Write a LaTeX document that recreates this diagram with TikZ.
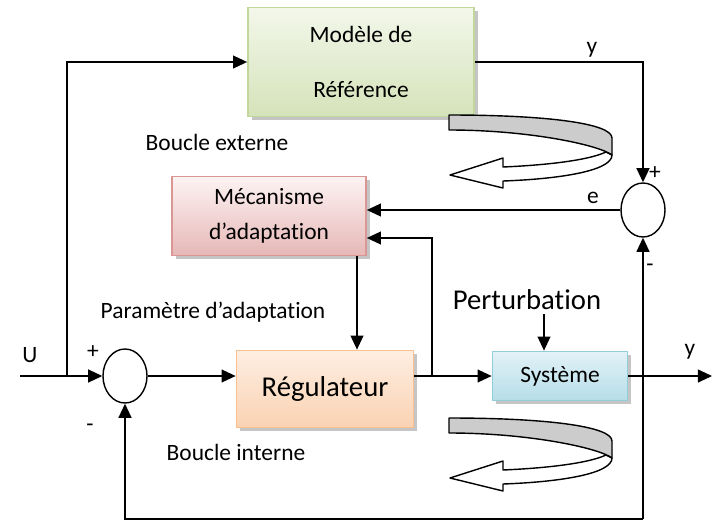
\documentclass[tikz,border=0pt]{standalone}
\usepackage{fontspec}
\setmainfont{Carlito}[Ligatures=NoCommon]
\usetikzlibrary{positioning,arrows.meta,shadows,shapes.geometric}
\definecolor{vertH}{HTML}{F3F7EA}
\definecolor{vertB}{HTML}{D5E3BA}
\definecolor{vertT}{HTML}{C3D69B}
\definecolor{roseH}{HTML}{FDF3F3}
\definecolor{roseB}{HTML}{E6B8B7}
\definecolor{roseT}{HTML}{D99694}
\definecolor{orangeH}{HTML}{FEEEE2}
\definecolor{orangeB}{HTML}{FAD2B2}
\definecolor{orangeT}{HTML}{FAC090}
\definecolor{bleuH}{HTML}{E2F2F7}
\definecolor{bleuB}{HTML}{B6DDE8}
\definecolor{bleuT}{HTML}{92CDDC}
\newcommand{\boucle}[1]{%
	\begin{scope}[shift={#1},line width=1.2pt,line join=round]
		\filldraw[fill=white] (163,40) .. controls (163,56) and (110,64) .. (54,66) -- (54,73) -- (1,60) -- (54,43) -- (54,52) .. controls (100,50) and (140,45) .. (157,37) -- cycle;
		\filldraw[fill=black!20] (0,0) .. controls (95,0) and (163,8) .. (163,23) -- (163,40) .. controls (150,30) and (80,15) .. (0,15) -- cycle;
	\end{scope}}

\begin{document}
\begin{tikzpicture}[x=0.03cm,y=-0.03cm,
		every node/.style={font=\fontsize{20}{24}\selectfont},
		bloc/.style={rectangle,line width=1.5pt,drop shadow={shadow xshift=3pt,shadow yshift=-3pt,fill=black!45,opacity=0.5}},
		somme/.style={draw,ellipse,line width=1.2pt,minimum width=1.32cm,minimum height=1.62cm,inner sep=0pt},
		fleche/.style={line width=1.2pt,-{Triangle[length=12pt,width=11pt]}},
		grand/.style={font=\fontsize{24.5}{29}\selectfont}]
		\useasboundingbox (0,0) rectangle (720,522);
		\node[bloc,draw=vertT,top color=vertH,bottom color=vertB,minimum width=6.78cm,minimum height=3.27cm,align=center,font=\fontsize{20}{46.75}\selectfont] (ref) at (361,62) {Modèle de\\Référence};
		\node[bloc,draw=roseT,top color=roseH,bottom color=roseB,minimum width=5.82cm,minimum height=2.37cm,align=center,font=\fontsize{20}{29.75}\selectfont] (meca) at (269,216) {Mécanisme\\d’adaptation};
		\node[bloc,grand,draw=orangeT,top color=orangeH,bottom color=orangeB,minimum width=5.31cm,minimum height=2.31cm] (reg) at (325,389) {Régulateur};
		\node[bloc,draw=bleuT,top color=bleuH,bottom color=bleuB,minimum width=4.05cm,minimum height=1.47cm] (sys) at (560,376) {Système};
		\node[somme] (s1) at (125,376) {};
		\node[somme] (s2) at (643,210) {};
		\node[grand] (pert) at (527,300) {Perturbation};
		\node (lu) at (30,355) {U};
		\node (p1) at (93,352) {+};
		\node (m1) at (90,428) {-};
		\node (ly1) at (592,50) {y};
		\node (p2) at (655,173) {+};
		\node (le) at (593,198) {e};
		\node (m2) at (650,268) {-};
		\node (ly2) at (690,352) {y};
		\node (bext) at (217,142) {Boucle externe};
		\node (param) at (213,312) {Paramètre d’adaptation};
		\node (bint) at (236,452) {Boucle interne};
		\coordinate (u) at (20,376);
		\coordinate (j1) at (67,376);
		\coordinate (j2) at (432,376);
		\coordinate (k2) at (432,238);
		\coordinate (pm) at (357,0);
		\coordinate (pp) at (544,314);
		\coordinate (yout) at (712,376);
		\coordinate (fb) at (643,519);
		\draw[fleche] (u) -- (s1.west);
		\draw[fleche] (j1) |- (ref.west);
		\draw[fleche] (s1.east) -- (reg.west |- s1.east);
		\draw[fleche] (reg.east |- s1.east) -- (sys.west);
		\draw[fleche] (j2) -- (k2) -- (meca.east |- k2);
		\draw[fleche] (s2.west) -- (meca.east |- s2.west);
		\draw[fleche] (ref.east) -| (s2.north);
		\draw[fleche] (meca.south -| pm) -- (reg.north -| pm);
		\draw[fleche] (pp) -- (pp |- sys.north);
		\draw[fleche] (sys.east) -- (yout);
		\draw[fleche] (fb) -| (s1.south);
		\draw[fleche] (fb) -- (s2.south);
		\boucle{(449,115)}
		\boucle{(449,418)}
\end{tikzpicture}
\end{document}
